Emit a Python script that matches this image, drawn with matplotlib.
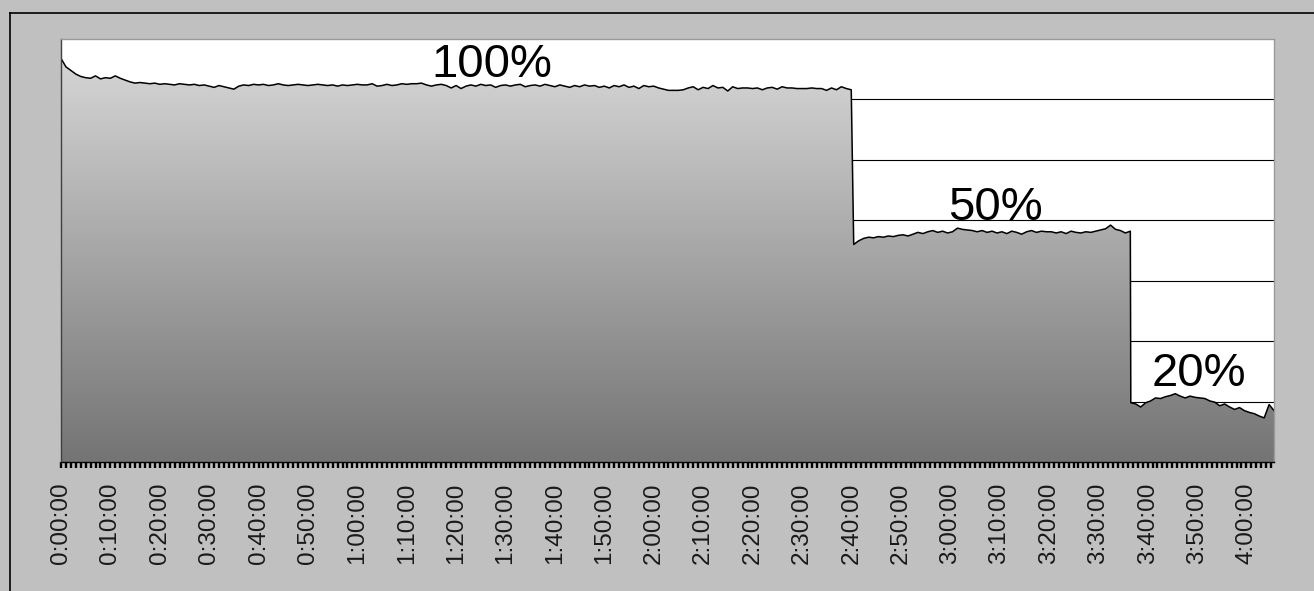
import numpy as np
from matplotlib import pyplot as plt
from matplotlib.colors import LinearSegmentedColormap
from matplotlib.patches import PathPatch
from matplotlib.lines import Line2D

# readings, one per minute, in three runs (100%, 50%, 20%)
run1_start = 0.0
run1 = [66.8, 65.4, 64.8, 64.2, 63.8, 63.6, 63.5, 63.9, 63.4, 63.6,
        63.5, 63.9, 63.5, 63.2, 62.9, 62.7, 62.8, 62.7, 62.6, 62.7,
        62.5, 62.6, 62.5, 62.4, 62.6, 62.5, 62.4, 62.5, 62.3, 62.4,
        62.2, 62.0, 62.3, 62.1, 61.9, 61.7, 62.2, 62.4, 62.3, 62.5,
        62.4, 62.5, 62.3, 62.4, 62.6, 62.4, 62.3, 62.4, 62.5, 62.4,
        62.3, 62.4, 62.5, 62.4, 62.3, 62.4, 62.2, 62.4, 62.3, 62.4,
        62.5, 62.4, 62.4, 62.6, 62.2, 62.3, 62.5, 62.3, 62.4, 62.6,
        62.5, 62.6, 62.6, 62.7, 62.4, 62.2, 62.4, 62.5, 62.3, 61.9,
        62.3, 61.8, 62.2, 62.4, 62.2, 62.5, 62.3, 62.4, 62.0, 62.3,
        62.4, 62.2, 62.4, 62.5, 62.1, 62.3, 62.4, 62.2, 62.5, 62.3,
        62.1, 62.4, 62.2, 62.0, 62.3, 62.1, 62.4, 62.2, 62.3, 62.0,
        62.2, 61.9, 62.3, 62.1, 62.4, 62.0, 62.2, 61.8, 62.3, 62.1,
        62.2, 61.9, 61.7, 61.5, 61.5, 61.5, 61.6, 61.9, 62.1, 61.6,
        62.0, 61.8, 62.3, 61.9, 62.0, 61.4, 62.1, 61.8, 61.9, 61.9,
        61.8, 61.9, 61.6, 61.9, 62.0, 61.7, 62.1, 61.9, 61.9, 61.8,
        61.8, 61.8, 61.9, 61.8, 61.8, 61.5, 61.9, 61.6, 62.1, 61.8,
        61.6]
run2_start = 160.5
run2 = [36.0, 36.6, 37.0, 37.2, 37.1, 37.3, 37.2, 37.4, 37.3, 37.5,
        37.6, 37.4, 37.7, 38.0, 37.8, 38.1, 38.3, 38.0, 38.2, 37.9,
        38.1, 38.7, 38.5, 38.4, 38.3, 38.1, 38.3, 38.0, 38.2, 37.9,
        38.1, 37.8, 38.2, 38.0, 37.7, 38.1, 38.3, 38.0, 38.2, 38.1,
        38.1, 37.9, 38.1, 37.8, 38.2, 38.0, 37.9, 38.1, 38.0, 38.2,
        38.4, 38.6, 39.2, 38.5, 38.3, 37.9, 38.2]
run3_start = 216.6
run3 = [9.8, 9.6, 9.1, 9.8, 10.1, 10.6, 10.5, 10.8, 11.0, 11.3,
        10.9, 10.6, 10.9, 10.7, 10.6, 10.5, 10.1, 9.9, 9.3, 9.6,
        9.1, 8.7, 9.0, 8.5, 8.2, 8.0, 7.6, 7.3, 9.5, 8.5]

labels = ["100%", "50%", "20%"]

t = np.concatenate([run1_start + np.arange(len(run1)),
                    run2_start + np.arange(len(run2)),
                    run3_start + np.arange(len(run3))])
v = np.concatenate([run1, run2, run3])
tmax = t[-1]
ymax = 70

fig = plt.figure(figsize=(13.14, 5.91), dpi=100, facecolor='#c0c0c0')
ax = fig.add_axes([0.0464, 0.2183, 0.9232, 0.7157])
ax.set_facecolor('white')

# horizontal grid, sits behind the filled area
for g in range(10, ymax, 10):
    ax.axhline(g, color='black', lw=0.8, zorder=0.5)

# gray gradient under the curve
cmap = LinearSegmentedColormap.from_list('grey_grad', ['#747474', '#dadada'])
grad = np.linspace(0, 1, 256).reshape(-1, 1)
im = ax.imshow(grad, extent=[0, tmax, 0, ymax], origin='lower', aspect='auto',
               cmap=cmap, zorder=1, interpolation='bicubic')
fill = ax.fill_between(t, v, 0, facecolor='none', edgecolor='none')
clip = PathPatch(fill.get_paths()[0], transform=ax.transData,
                 facecolor='none', edgecolor='none')
ax.add_patch(clip)
im.set_clip_path(clip)

ax.plot(t, v, color='black', lw=1.1, zorder=3)

# level labels
ax.text(87.2, 63.7, labels[0], fontsize=34, ha='center', va='baseline',
        family='Liberation Sans', zorder=4)
ax.text(189.2, 40.1, labels[1], fontsize=34, ha='center', va='baseline',
        family='Liberation Sans', zorder=4)
ax.text(230.3, 12.6, labels[2], fontsize=34, ha='center', va='baseline',
        family='Liberation Sans', zorder=4)

ax.set_xlim(0, tmax)
ax.set_ylim(0, ymax)
ax.set_yticks([])

major = np.arange(0, 241, 10)
ax.set_xticks(major)
ax.set_xticklabels(["%d:%02d:00" % (m // 60, m % 60) for m in major],
                   rotation=90, fontsize=17.5, family='Liberation Sans',
                   color='#1a1a1a')
ax.set_xticks(np.arange(0, tmax, 1), minor=True)
ax.tick_params(axis='x', which='both', direction='out', length=4.6,
               width=1.7, color='black')
ax.tick_params(axis='x', which='major', pad=10.3)

ax.spines['top'].set_color('#9a9a9a')
ax.spines['right'].set_color('#9a9a9a')
ax.spines['left'].set_color('#404040')
ax.spines['bottom'].set_color('black')
for s in ax.spines.values():
    s.set_linewidth(1.0)
    s.set_zorder(5)

# sunken frame edge of the window
fig.add_artist(Line2D([0.0076, 1.0], [0.978, 0.978], color='black', lw=1.2,
                      transform=fig.transFigure))
fig.add_artist(Line2D([0.0076, 0.0076], [0.0, 0.978], color='black', lw=1.2,
                      transform=fig.transFigure))

fig.savefig('out.png', dpi=100, facecolor=fig.get_facecolor())
